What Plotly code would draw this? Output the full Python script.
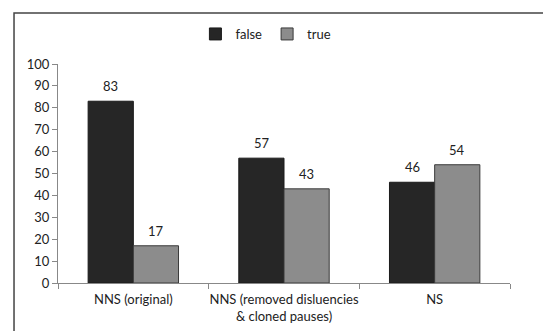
import plotly.graph_objects as go

categories = ["NNS (original)", "NNS (removed disluencies<br>& cloned pauses)", "NS"]
false_vals = [83, 57, 46]
true_vals = [17, 43, 54]
y_ticks = list(range(0, 101, 10))

font = "Lato, 'Open Sans', sans-serif"

fig = go.Figure()
fig.add_trace(go.Bar(name="false", x=categories, y=false_vals,
                     marker=dict(color="#262626", line=dict(color="#1a1a1a", width=1))))
fig.add_trace(go.Bar(name="true", x=categories, y=true_vals,
                     marker=dict(color="#8c8c8c", line=dict(color="#3a3a3a", width=1))))

annotations = []
for cat, fv, tv in zip(categories, false_vals, true_vals):
    annotations.append(dict(x=cat, y=fv, text=str(fv), showarrow=False, yanchor="bottom",
                            xshift=-22.5, yshift=5, font=dict(size=13)))
    annotations.append(dict(x=cat, y=tv, text=str(tv), showarrow=False, yanchor="bottom",
                            xshift=22.5, yshift=5, font=dict(size=13)))

fig.update_layout(
    width=543, height=331,
    margin=dict(l=58, r=33, t=64, b=48, autoexpand=False),
    paper_bgcolor="white", plot_bgcolor="white",
    font=dict(family=font, size=13, color="#222"),
    bargap=0.40, bargroupgap=0,
    showlegend=True,
    legend=dict(orientation="h", x=0.46, xanchor="center", y=1.137, yanchor="middle",
                bgcolor="rgba(0,0,0,0)", font=dict(size=13), itemwidth=30,
                traceorder="normal", tracegroupgap=0),
    annotations=annotations,
    shapes=[dict(type="rect", xref="paper", yref="paper",
                 x0=-0.0973, x1=1.2, y0=-0.5, y1=1.233,
                 line=dict(color="#444", width=1.5), fillcolor="rgba(0,0,0,0)")],
)
fig.update_xaxes(showline=True, linecolor="#888", linewidth=1, tickangle=0,
                 ticks="outside", tickson="boundaries", ticklen=5, tickcolor="#888",
                 ticklabelstandoff=4, tickfont=dict(size=13))
fig.update_yaxes(range=[0, 100], tickvals=y_ticks, showline=True, linecolor="#888",
                 linewidth=1, ticks="outside", ticklen=5, tickcolor="#888",
                 showgrid=False, zeroline=False, tickfont=dict(size=13))

fig.write_html("out.html", config={"displayModeBar": False},
               post_script="document.body.style.margin='0';")
